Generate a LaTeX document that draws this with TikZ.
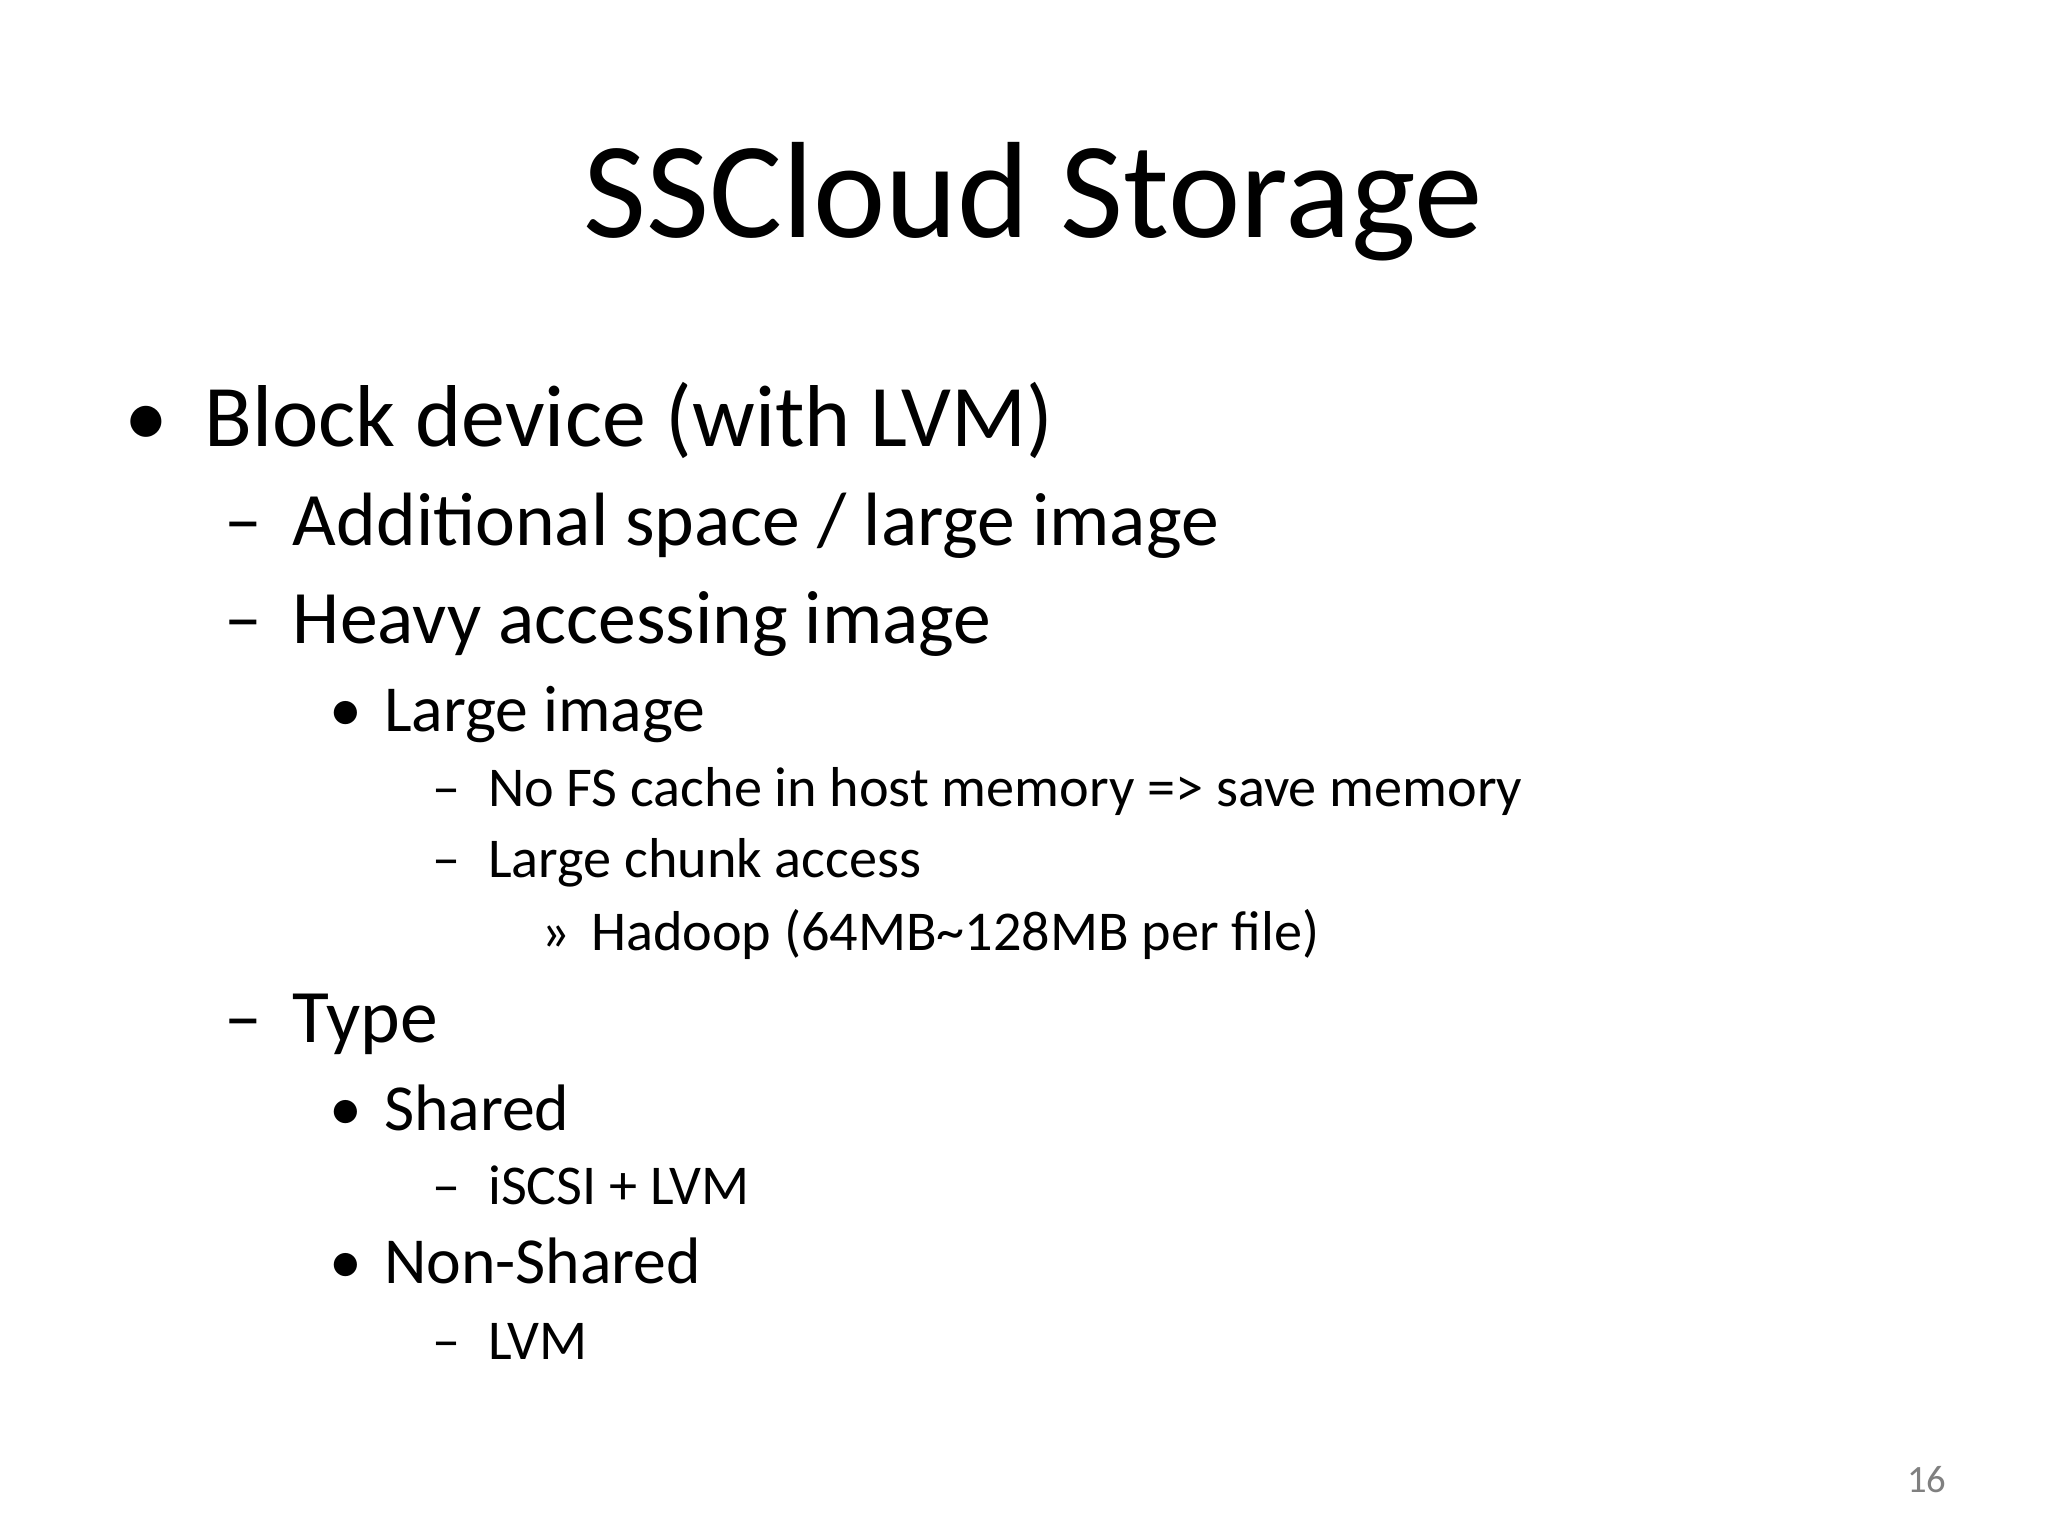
\documentclass[tikz,border=0pt]{standalone}
\usepackage{fontspec}
\setmainfont{Carlito}
\begin{document}
\begin{tikzpicture}[x=0.013196cm,y=-0.013196cm,
  t/.style={anchor=base west,inner sep=0pt,outer sep=0pt},
  lone/.style={t,font=\fontsize{25}{30}\selectfont},
  ltwo/.style={t,font=\fontsize{21.5}{26}\selectfont},
  lthree/.style={t,font=\fontsize{18.7}{22}\selectfont},
  lfour/.style={t,font=\fontsize{16}{19}\selectfont}]
\useasboundingbox[fill=white] (0,0) rectangle (1552,1164);
\node[anchor=base,inner sep=0pt,font=\fontsize{39}{46}\selectfont] (title) at (783,180) {SSCloud Storage};
% level 1
\node[lone] (b1) at (94,338) {•};
\node[lone] (t1) at (155,338) {Block device (with LVM)};
% level 2
\node[ltwo] (d1) at (170,413) {–};
\node[ltwo] (t2) at (222,413) {Additional space / large image};
\node[ltwo] (d2) at (170,488) {–};
\node[ltwo] (t3) at (222,488) {Heavy accessing image};
\node[ltwo] (d3) at (170,790) {–};
\node[ltwo] (t4) at (222,790) {Type};
% level 3
\node[lthree] (b2) at (250,554) {•};
\node[lthree] (t5) at (291,554) {Large image};
\node[lthree] (b3) at (250,857) {•};
\node[lthree] (t6) at (291,857) {Shared};
\node[lthree] (b4) at (250,973) {•};
\node[lthree] (t7) at (291,973) {Non-Shared};
% level 4
\node[lfour] (d4) at (328,611) {–};
\node[lfour] (t8) at (370,611) {No FS cache in host memory => save memory};
\node[lfour] (d5) at (328,665) {–};
\node[lfour] (t9) at (370,665) {Large chunk access};
\node[lfour] (d6) at (328,913) {–};
\node[lfour] (t10) at (370,913) {iSCSI + LVM};
\node[lfour] (d7) at (328,1030) {–};
\node[lfour] (t11) at (370,1030) {LVM};
% level 5
\node[lfour] (r1) at (410,720) {»};
\node[lfour] (t12) at (448,720) {Hadoop (64MB\textasciitilde128MB per file)};
% page number
\node[anchor=base,inner sep=0pt,font=\fontsize{11}{13}\selectfont,text=gray] (pg) at (1460,1131) {16};
\end{tikzpicture}
\end{document}
